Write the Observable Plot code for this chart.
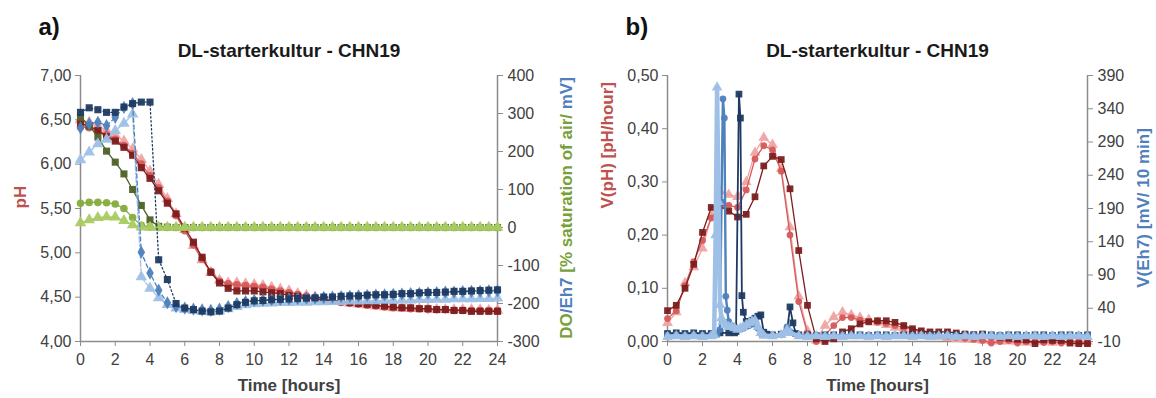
<!DOCTYPE html>
<html>
<head>
<meta charset="utf-8">
<script src="https://cdn.jsdelivr.net/npm/d3@7"></script>
<script src="https://cdn.jsdelivr.net/npm/@observablehq/plot@0.6"></script>
<style>
  body { margin: 0; background: #fff; }
  #wrap { display: flex; width: 1156px; height: 398px; overflow: hidden; background: #fff; }
</style>
</head>
<body>
<div id="wrap"></div>
<script>
// ---------------- DATA ----------------
const hours = [0,0.5,1,1.5,2,2.5,3,3.5,4,4.5,5,5.5,6,6.5,7,7.5,8,8.5,9,9.5,10,10.5,11,11.5,12,12.5,13,13.5,14,14.5,15,15.5,16,16.5,17,17.5,18,18.5,19,19.5,20,20.5,21,21.5,22,22.5,23,23.5,24];
const xTicks = [0,2,4,6,8,10,12,14,16,18,20,22,24];

// Panel a) pH (left axis)
const phSquares   = [6.46,6.43,6.38,6.31,6.26,6.19,6.10,5.96,5.84,5.70,5.56,5.44,5.28,5.12,4.95,4.78,4.66,4.60,4.57,4.57,4.57,4.56,4.55,4.54,4.52,4.51,4.49,4.48,4.47,4.46,4.45,4.44,4.43,4.42,4.41,4.40,4.39,4.38,4.38,4.37,4.37,4.36,4.36,4.35,4.35,4.34,4.34,4.34,4.34];
const phCircles   = [6.42,6.41,6.37,6.33,6.28,6.21,6.12,6.00,5.87,5.73,5.58,5.42,5.25,5.09,4.93,4.79,4.68,4.65,4.64,4.63,4.62,4.61,4.59,4.57,4.55,4.53,4.51,4.49,4.47,4.46,4.44,4.43,4.42,4.41,4.40,4.39,4.38,4.38,4.37,4.37,4.36,4.36,4.36,4.35,4.35,4.35,4.35,4.35,4.35];
const phTriangles = [6.50,6.47,6.43,6.38,6.33,6.26,6.17,6.05,5.92,5.77,5.61,5.44,5.26,5.08,4.92,4.78,4.69,4.66,4.66,4.65,4.64,4.63,4.61,4.59,4.57,4.54,4.52,4.50,4.48,4.46,4.45,4.43,4.42,4.41,4.40,4.39,4.38,4.38,4.37,4.37,4.37,4.36,4.36,4.36,4.36,4.36,4.36,4.35,4.35];

// Panel a) Eh7 [mV] (right axis)
const ehSquares   = [303,315,310,303,303,317,326,330,330,-85,-137,-200,-212,-216,-220,-222,-220,-212,-203,-197,-193,-192,-190,-189,-188,-187,-186,-185,-183,-183,-181,-180,-180,-178,-177,-177,-176,-174,-174,-172,-171,-171,-170,-168,-168,-167,-166,-165,-164];
const ehCircles   = [262,273,277,268,290,316,326,-65,-120,-165,-198,-208,-212,-215,-217,-218,-215,-208,-200,-195,-192,-191,-190,-189,-188,-187,-186,-185,-184,-183,-182,-181,-180,-179,-178,-177,-176,-175,-174,-173,-172,-171,-170,-170,-169,-168,-168,-167,-167];
const ehTriangles = [178,198,220,232,255,274,298,-130,-160,-185,-203,-212,-216,-219,-221,-222,-220,-214,-208,-204,-201,-200,-199,-198,-198,-197,-197,-196,-196,-195,-195,-194,-194,-193,-193,-192,-192,-191,-191,-190,-190,-189,-189,-188,-188,-188,-187,-187,-186];

// Panel a) DO [% saturation of air] (right axis)
const doSquares   = [290,268,238,201,172,141,100,58,20,3,1,0,0,0,0,0,0,0,0,0,0,0,0,0,0,0,0,0,0,0,0,0,0,0,0,0,0,0,0,0,0,0,0,0,0,0,0,0,0];
const doCircles   = [64,66,66,65,62,50,26,6,1,0,0,0,0,0,0,0,0,0,0,0,0,0,0,0,0,0,0,0,0,0,0,0,0,0,0,0,0,0,0,0,0,0,0,0,0,0,0,0,0];
const doTriangles = [12,20,26,28,27,18,7,1,0,0,0,0,0,0,0,0,0,0,0,0,0,0,0,0,0,0,0,0,0,0,0,0,0,0,0,0,0,0,0,0,0,0,0,0,0,0,0,0,0];

// Panel b) V(pH) [pH/hour] (left axis)
const vphSquares   = [0.058,0.068,0.100,0.145,0.205,0.252,0.255,0.245,0.234,0.239,0.272,0.330,0.348,0.342,0.287,0.171,0.068,0.005,0.000,0.005,0.018,0.024,0.033,0.037,0.039,0.039,0.036,0.030,0.024,0.020,0.018,0.018,0.018,0.016,0.014,0.013,0.014,0.010,0.008,0.006,0.004,0.003,-0.004,0.003,0.002,0.002,-0.003,-0.004,-0.004];
const vphCircles   = [0.043,0.058,0.105,0.150,0.190,0.232,0.256,0.256,0.252,0.285,0.343,0.368,0.360,0.320,0.200,0.075,0.015,0.000,0.012,0.030,0.045,0.045,0.040,0.038,0.036,0.034,0.030,0.026,0.022,0.018,0.015,0.012,0.010,0.008,0.006,0.004,0.002,-0.003,0.000,0.002,-0.003,0.000,0.000,-0.002,0.000,-0.003,0.000,0.000,-0.003];
const vphTriangles = [0.035,0.055,0.110,0.140,0.175,0.235,0.282,0.276,0.272,0.300,0.355,0.383,0.370,0.325,0.215,0.085,0.020,0.002,0.030,0.046,0.055,0.050,0.045,0.041,0.036,0.031,0.026,0.021,0.017,0.014,0.011,0.009,0.007,0.005,0.004,0.003,0.002,0.001,0.000,0.000,0.000,-0.002,0.000,0.000,-0.002,0.000,0.000,-0.002,0.000];

// Panel b) V(Eh7) [mV/10 min] (right axis) as [hour, value]
const vehSquares = [[0,2],[0.5,3],[1,2],[1.5,3],[2,2],[2.5,2],[3,3],[3.5,3],[3.833,3],[3.917,5],[4.083,362],[4.167,326],[4.25,59],[4.333,34],[4.5,20],[4.667,20],[4.833,22],[5,25],[5.167,28],[5.333,30],[5.5,4],[5.667,1],[6,0],[6.5,1],[6.833,6],[7,42],[7.167,18],[7.333,2],[7.5,0],[8,0],[8.5,-1],[9,0],[9.5,0],[10,-1],[10.5,0],[11,0],[11.5,-1],[12,0],[12.5,0],[13,-1],[13.5,0],[14,0],[14.5,-1],[15,0],[15.5,0],[16,-1],[16.5,0],[17,0],[17.5,-1],[18,0],[18.5,0],[19,-1],[19.5,0],[20,0],[20.5,-1],[21,0],[21.5,0],[22,-1],[22.5,0],[23,0],[23.5,-1],[24,0]];
const vehCircles = [[0,-1],[0.5,0],[1,-1],[1.5,0],[2,-1],[2.5,0],[2.833,0],[3,8],[3.083,200],[3.167,355],[3.25,326],[3.333,58],[3.417,37],[3.5,20],[3.667,14],[3.833,10],[4,9],[4.167,9],[4.333,10],[4.5,12],[4.667,14],[4.833,16],[5,18],[5.167,10],[5.333,2],[5.5,0],[6,-1],[6.5,0],[6.833,12],[7,5],[7.5,-1],[8,-1],[8.5,0],[9,-1],[9.5,-1],[10,0],[10.5,-1],[11,-1],[11.5,0],[12,-1],[12.5,-1],[13,0],[13.5,-1],[14,-1],[14.5,0],[15,-1],[15.5,-1],[16,0],[16.5,-1],[17,-1],[17.5,0],[18,-1],[18.5,-1],[19,0],[19.5,-1],[20,-1],[20.5,0],[21,-1],[21.5,-1],[22,0],[22.5,-1],[23,-1],[23.5,0],[24,-1]];
const vehTriangles = [[0,-3],[0.5,-2],[1,-3],[1.5,-2],[2,-3],[2.5,-2],[2.667,0],[2.75,150],[2.833,372],[2.917,200],[3,45],[3.083,25],[3.167,20],[3.333,15],[3.5,12],[3.667,12],[3.833,10],[4,8],[4.167,10],[4.333,12],[4.5,15],[4.667,18],[4.833,20],[5,22],[5.167,12],[5.333,3],[5.5,-1],[6,-2],[6.5,0],[6.833,7],[7,3],[7.5,-2],[8,-3],[8.5,-2],[9,-3],[9.5,-2],[10,-3],[10.5,-2],[11,-2],[11.5,-3],[12,-2],[12.5,-3],[13,-2],[13.5,-2],[14,-3],[14.5,-2],[15,-3],[15.5,-2],[16,-2],[16.5,-3],[17,-2],[17.5,-3],[18,-2],[18.5,-2],[19,-3],[19.5,-2],[20,-3],[20.5,-2],[21,-2],[21.5,-3],[22,-2],[22.5,-3],[23,-2],[23.5,-2],[24,-3]];

// Axis ticks
const phTicks = [4,4.5,5,5.5,6,6.5,7];
const mvTicksA = [-300,-200,-100,0,100,200,300,400];
const vphTicks = [0,0.1,0.2,0.3,0.4,0.5];
const mvTicksB = [-10,40,90,140,190,240,290,340,390];

// ---------------- STYLE ----------------
const C = {
  redDark: "#7c1d1d", red: "#d65a5a", redLight: "#f0a3a3",
  navy: "#1f3a62", blue: "#4f81bd", blueLight: "#9ec0e6",
  greenDark: "#4f6228", green: "#86ac3e", greenLight: "#a9cb62",
  axis: "#8c8c8c", text: "#404040", labelRed: "#c0504d", labelGreen: "#77a03a", labelBlue: "#4f7fbd"
};
const FONT = "'Liberation Sans', Arial, sans-serif";
const fmtComma = d => d.toFixed(2).replace(".", ",");

// right-axis conversions into left-axis units
const toA = mv => 4 + (mv + 300) / 700 * 3;
const fromA = p => Math.round((p - 4) / 3 * 700 - 300);
const toB = mv => (mv + 10) / 400 * 0.5;
const fromB = p => Math.round(p / 0.5 * 400 - 10);

const table = (arr, conv = v => v) => hours.map((t, i) => ({t, v: conv(arr[i])}));
const pairs = (arr, conv) => arr.map(([t, v]) => ({t, v: conv(v)}));

function seriesMarks(data, o) {
  return [
    Plot.line(data, {x: "t", y: "v", stroke: o.color, strokeWidth: o.sw ?? 1.3, strokeDasharray: o.dash ?? null, curve: "linear"}),
    Plot.dot(data, {x: "t", y: "v", symbol: o.symbol, r: o.r ?? 3.6, fill: o.color, stroke: null, fillOpacity: o.op ?? 0.95})
  ];
}

function frameMarks(leftTicks, leftFmt, rightTicksConv, rightFmt, yMin) {
  return [
    Plot.ruleY([yMin], {stroke: C.axis, strokeWidth: 1.5}),
    Plot.ruleX([0, 24], {stroke: C.axis, strokeWidth: 1.5}),
    Plot.axisX(xTicks, {tickSize: 5, tickPadding: 7, stroke: C.axis, fill: C.text, label: null, tickFormat: d => String(d)}),
    Plot.axisY(leftTicks, {anchor: "left", tickSize: 5, tickPadding: 4, stroke: C.axis, fill: C.text, label: null, tickFormat: leftFmt}),
    Plot.axisY(rightTicksConv, {anchor: "right", tickSize: 5, tickPadding: 5, stroke: C.axis, fill: C.text, label: null, tickFormat: rightFmt})
  ];
}

function titleMarks(letter, leftLabel) {
  return [
    Plot.text([letter], {frameAnchor: "top-left", dx: -42, dy: -48, textAnchor: "start", lineAnchor: "middle", fontWeight: "bold", fontSize: 24, fill: "#111"}),
    Plot.text(["DL-starterkultur - CHN19"], {frameAnchor: "top", dy: -25, lineAnchor: "middle", fontWeight: "bold", fontSize: 19, fill: "#1a1a1a"}),
    Plot.text(["Time [hours]"], {frameAnchor: "bottom", dy: 44, lineAnchor: "middle", fontWeight: "bold", fontSize: 17, fill: C.text}),
    Plot.text([leftLabel], {frameAnchor: "left", dx: -60, rotate: -90, lineAnchor: "middle", fontWeight: "bold", fontSize: 17, fill: C.labelRed})
  ];
}

// ---------------- PANEL a ----------------
const chartA = Plot.plot({
  width: 578, height: 398,
  marginLeft: 80, marginRight: 81, marginTop: 75, marginBottom: 57,
  style: {fontFamily: FONT, fontSize: "16px", color: C.text, background: "#fff", overflow: "visible"},
  x: {domain: [0, 24]},
  y: {domain: [4, 7]},
  marks: [
    ...frameMarks(phTicks, fmtComma, mvTicksA.map(toA), fromA, 4),
    ...seriesMarks(table(phTriangles), {color: C.redLight, symbol: "triangle", r: 4.3}),
    ...seriesMarks(table(phCircles), {color: C.red, symbol: "circle", r: 3.8}),
    ...seriesMarks(table(phSquares), {color: C.redDark, symbol: "square", r: 4}),
    ...seriesMarks(table(doSquares, toA), {color: C.greenDark, symbol: "square", r: 4}),
    ...seriesMarks(table(doCircles, toA), {color: C.green, symbol: "circle", r: 3.8}),
    ...seriesMarks(table(doTriangles, toA), {color: C.greenLight, symbol: "triangle", r: 4.3}),
    ...seriesMarks(table(ehTriangles, toA), {color: C.blueLight, symbol: "triangle", r: 4.3, dash: "6,2,2,2"}),
    ...seriesMarks(table(ehCircles, toA), {color: C.blue, symbol: "diamond", r: 4, dash: "4,3"}),
    ...seriesMarks(table(ehSquares, toA), {color: C.navy, symbol: "square", r: 4, dash: "1.5,2.5"}),
    ...titleMarks("a)", "pH")
  ]
});

// ---------------- PANEL b ----------------
const chartB = Plot.plot({
  width: 578, height: 398,
  marginLeft: 89, marginRight: 69, marginTop: 75, marginBottom: 57,
  style: {fontFamily: FONT, fontSize: "16px", color: C.text, background: "#fff", overflow: "visible"},
  x: {domain: [0, 24]},
  y: {domain: [0, 0.5]},
  marks: [
    ...frameMarks(vphTicks, fmtComma, mvTicksB.map(toB), fromB, 0),
    ...seriesMarks(table(vphTriangles), {color: C.redLight, symbol: "triangle", r: 4}),
    ...seriesMarks(table(vphCircles), {color: C.red, symbol: "circle", r: 3.4}),
    ...seriesMarks(table(vphSquares), {color: C.redDark, symbol: "square", r: 3.8}),
    ...seriesMarks(pairs(vehSquares, toB), {color: C.navy, symbol: "square", r: 3.8, sw: 1.8}),
    ...seriesMarks(pairs(vehCircles, toB), {color: C.blue, symbol: "circle", r: 3.4, sw: 2.4}),
    ...seriesMarks(pairs(vehTriangles, toB), {color: C.blueLight, symbol: "triangle", r: 4, sw: 4.5}),
    ...titleMarks("b)", "V(pH) [pH/hour]")
  ]
});

document.getElementById("wrap").append(chartA, chartB);

// Right axis titles (multi-coloured text)
function rightLabel(svg, x, parts) {
  const t = d3.select(svg).append("text")
    .attr("transform", `translate(${x},208) rotate(-90)`)
    .attr("text-anchor", "middle")
    .attr("dy", "0.35em")
    .attr("font-weight", "bold")
    .attr("font-size", 17)
    .attr("font-family", FONT);
  parts.forEach(([s, c]) => t.append("tspan").attr("fill", c).text(s));
}
rightLabel(chartA, 566, [["DO", C.labelGreen], ["/Eh7", C.labelBlue], [" [% saturation of air/", C.labelGreen], [" mV]", C.labelBlue]]);
rightLabel(chartB, 565, [["V(Eh7) [mV/ 10 min]", C.labelBlue]]);
</script>
</body>
</html>
